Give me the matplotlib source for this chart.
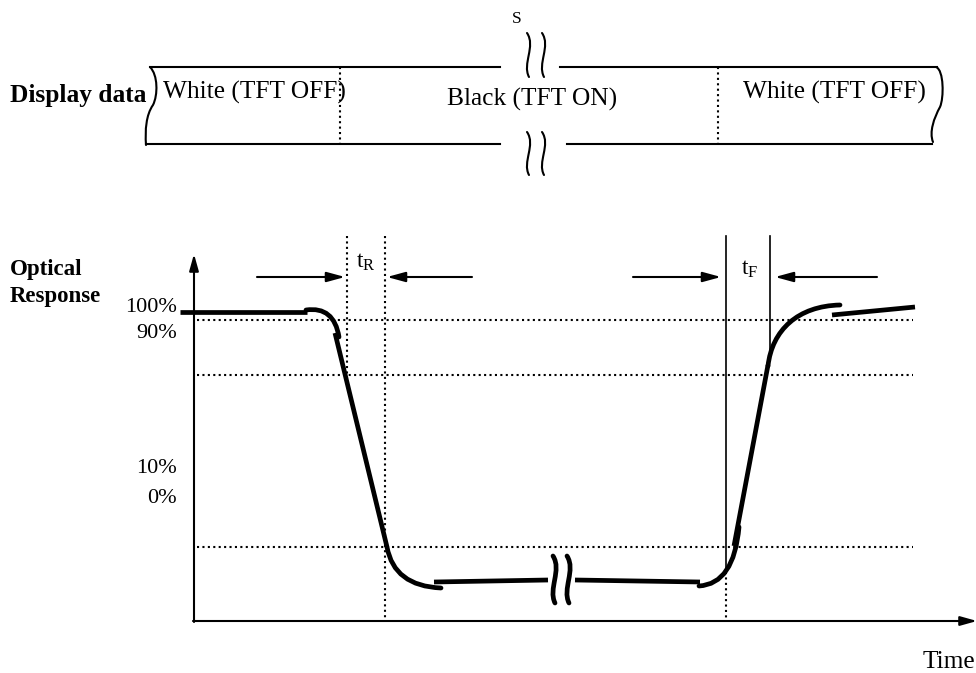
import matplotlib.pyplot as plt
from matplotlib.path import Path
from matplotlib.patches import PathPatch

plt.rcParams['font.family'] = 'Liberation Serif'
plt.rcParams['mathtext.fontset'] = 'custom'
plt.rcParams['mathtext.rm'] = 'Liberation Serif'
plt.rcParams['mathtext.it'] = 'Liberation Serif:italic'

# whole picture is drawn in pixel units of the original 976 x 673 drawing
W, H = 976, 673

# display data bar
bar_top, bar_bot = 67, 144
bar_top_x = [(150, 500), (560, 937)]
bar_bot_x = [(146, 500), (567, 932)]
bar_dividers = [340, 718]
bar_texts = ['White (TFT OFF)', 'Black (TFT ON)', 'White (TFT OFF)']
bar_text_x = [163, 447, 743]
bar_text_y = [99, 106, 99]

# optical response plot
axis_x0, axis_y0 = 194, 621
level_labels = ['100%', '90%', '10%', '0%']
level_label_y = [312, 338, 473, 503]
grid_y = [320, 375, 547]
grid_x_end = 913

# rise / fall time markers
t_r = [347, 385]
t_f = [726, 770]

# response curve pieces (time, level) in picture units
flat_top = ([180, 307], [312, 312])
fall = ([335, 387], [333, 547])
low_a = ([434, 548], [582, 580])
low_b = ([575, 700], [580, 582])
rise = ([734, 768], [546, 365])
tail = ([832, 915], [315, 307])

fig = plt.figure(figsize=(W / 100, H / 100), dpi=100)
ax = fig.add_axes([0, 0, 1, 1])
ax.set_xlim(0, W)
ax.set_ylim(H, 0)
ax.axis('off')

thin = 1.5
thick = 3.4
dots = (0, (1, 1.6))


def curve(pts, codes, lw, **kw):
    ax.add_patch(PathPatch(Path(pts, codes), fc='none', ec='black', lw=lw,
                           capstyle='round', **kw))


def wiggle(x, y0, y1, lw, dx=5):
    h = y1 - y0
    curve([(x - 2, y0), (x + dx, y0 + 0.3 * h), (x - dx, y0 + 0.7 * h), (x, y1)],
          [Path.MOVETO, Path.CURVE4, Path.CURVE4, Path.CURVE4], lw)


# ---- display data bar ----
for x0, x1 in bar_top_x:
    ax.plot([x0, x1], [bar_top, bar_top], color='black', lw=thin)
for x0, x1 in bar_bot_x:
    ax.plot([x0, x1], [bar_bot, bar_bot], color='black', lw=thin)
for xd in bar_dividers:
    ax.plot([xd, xd], [bar_top, bar_bot], color='black', lw=thin, ls=dots)

C4 = Path.CURVE4
curve([(150, bar_top), (158, 75), (158, 95), (153, 105), (146, 115), (145, 130), (146, bar_bot + 1)],
      [Path.MOVETO, C4, C4, C4, C4, C4, C4], thin)
curve([(936, bar_top), (944, 70), (944, 98), (940, 107), (934, 118), (929, 132), (933, bar_bot - 2)],
      [Path.MOVETO, C4, C4, C4, C4, C4, C4], thin)

for xw in [529, 544]:
    wiggle(xw, 33, 77, thin, dx=7)
    wiggle(xw, 132, 175, thin, dx=7)

ax.text(517, 23, 'S', fontsize=12.5, ha='center', va='baseline')
ax.text(10, 102, 'Display data', fontsize=18.3, fontweight='bold', va='baseline')
for t, x, y in zip(bar_texts, bar_text_x, bar_text_y):
    ax.text(x, y, t, fontsize=18.3, va='baseline')

# ---- axes ----
head = dict(arrowstyle='-|>,head_length=1.0,head_width=0.28', lw=thin, color='black',
            shrinkA=0, shrinkB=0)
ax.annotate('', xy=(axis_x0, 254), xytext=(axis_x0, axis_y0 + 1), arrowprops=head,
            annotation_clip=False)
ax.annotate('', xy=(977, axis_y0), xytext=(axis_x0 - 1, axis_y0), arrowprops=head,
            annotation_clip=False)

ax.text(10, 275, 'Optical', fontsize=16.5, fontweight='bold', va='baseline')
ax.text(10, 302, 'Response', fontsize=16.5, fontweight='bold', va='baseline')
for lab, y in zip(level_labels, level_label_y):
    ax.text(177, y, lab, fontsize=16, ha='right', va='baseline')
ax.text(923, 668, 'Time', fontsize=18.3, va='baseline')

for gy in grid_y:
    ax.plot([axis_x0 + 3, grid_x_end], [gy, gy], color='black', lw=thin, ls=dots)

# rise time guides (dotted)
ax.plot([t_r[0], t_r[0]], [236, 380], color='black', lw=thin, ls=dots)
ax.plot([t_r[1], t_r[1]], [236, axis_y0], color='black', lw=thin, ls=dots)
# fall time guides (solid)
ax.plot([t_f[0], t_f[0]], [236, 572], color='black', lw=1.2)
ax.plot([t_f[0], t_f[0]], [572, axis_y0], color='black', lw=thin, ls=dots)
ax.plot([t_f[1], t_f[1]], [236, 352], color='black', lw=1.2)

arrow = dict(arrowstyle='-|>,head_length=1.1,head_width=0.3', lw=thin, color='black',
             shrinkA=0, shrinkB=0)
ax.annotate('', xy=(t_r[0] - 2, 277), xytext=(257, 277), arrowprops=arrow)
ax.annotate('', xy=(t_r[1] + 2, 277), xytext=(472, 277), arrowprops=arrow)
ax.annotate('', xy=(t_f[0] - 5, 277), xytext=(633, 277), arrowprops=arrow)
ax.annotate('', xy=(t_f[1] + 5, 277), xytext=(877, 277), arrowprops=arrow)
ax.text(366, 268, r'$\mathrm{t_R}$', fontsize=17, ha='center', va='baseline')
ax.text(750, 275, r'$\mathrm{t_F}$', fontsize=17, ha='center', va='baseline')

# ---- response curve ----
for xs, ys in [flat_top, fall, low_a, low_b, rise, tail]:
    ax.plot(xs, ys, color='black', lw=thick, solid_capstyle='butt')

C3 = Path.CURVE3
curve([(306, 310), (334, 306), (339, 337)], [Path.MOVETO, C3, C3], thick)
curve([(387, 547), (394, 586), (441, 588)], [Path.MOVETO, C3, C3], thick)
curve([(699, 586), (734, 584), (739, 527)], [Path.MOVETO, C3, C3], thick)
curve([(768, 366), (772, 330), (798, 306), (840, 305)], [Path.MOVETO, C4, C4, C4], thick)

for xw in [555, 569]:
    wiggle(xw, 556, 603, thick, dx=7)

fig.savefig('out.png', dpi=100)
